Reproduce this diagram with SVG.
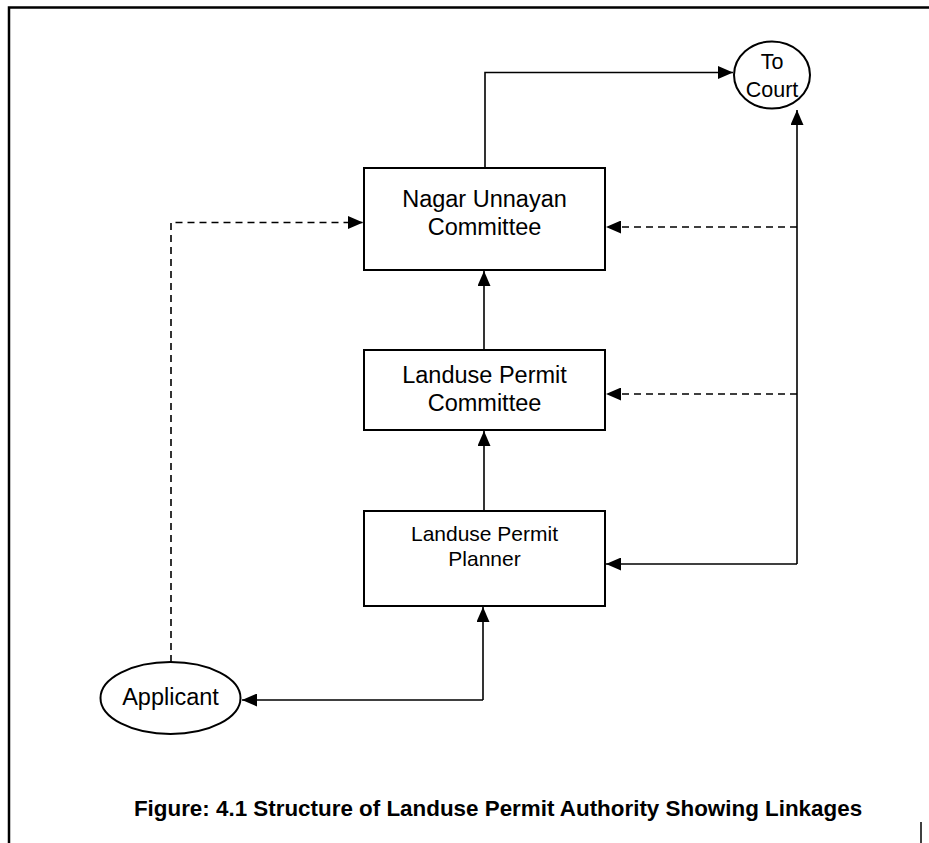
<svg xmlns="http://www.w3.org/2000/svg" width="929" height="843" viewBox="0 0 929 843">
<style>
.node{fill:#fff;stroke:#000;stroke-width:2}
.t{font-family:"Liberation Sans",Arial,sans-serif;font-size:23.5px;fill:#000;text-anchor:middle}
.ts{font-size:21px}
.tc{font-size:21.5px}
.cap{font-family:"Liberation Sans",Arial,sans-serif;font-size:22.4px;font-weight:bold;fill:#000;text-anchor:middle}
.c{fill:none;stroke:#000;stroke-width:1.6}
.d{stroke-dasharray:7 5}
.frame{fill:none;stroke:#000;stroke-width:2.5}
</style>
<defs>
<marker id="ah" viewBox="0 0 15 13" refX="15" refY="6.5" markerWidth="15" markerHeight="13" markerUnits="userSpaceOnUse" orient="auto">
<path d="M0,0 L15,6.5 L0,13 Z" fill="#000"/>
</marker>
</defs>
<g id="frame">
<path class="frame" d="M9,843 V7.5 H929"/>
<line x1="921" y1="822" x2="921" y2="843" stroke="#000" stroke-width="1.5"/>
</g>
<g id="connectors">
<path class="c" d="M485,168 V72.5 H733" marker-end="url(#ah)"/>
<path class="c" d="M797,564 V110" marker-end="url(#ah)"/>
<path class="c" d="M797,564 H606" marker-end="url(#ah)"/>
<path class="c d" d="M797,227 H606" marker-end="url(#ah)"/>
<path class="c d" d="M797,394 H606" marker-end="url(#ah)"/>
<path class="c" d="M484,350 V271" marker-end="url(#ah)"/>
<path class="c" d="M484,511 V431" marker-end="url(#ah)"/>
<path class="c" d="M483,700 V607" marker-end="url(#ah)"/>
<path class="c" d="M483,700 H242" marker-end="url(#ah)"/>
<path class="c d" d="M171,662 V222.5 H363" marker-end="url(#ah)"/>
</g>
<g id="to-court">
<ellipse class="node" cx="772" cy="75" rx="38" ry="33.5"/>
<text class="t tc" x="772" y="69">To</text>
<text class="t tc" x="772" y="97">Court</text>
</g>
<g id="nagar-unnayan-committee">
<rect class="node" x="364" y="168" width="241" height="102"/>
<text class="t" x="484.5" y="207">Nagar Unnayan</text>
<text class="t" x="484.5" y="235">Committee</text>
</g>
<g id="landuse-permit-committee">
<rect class="node" x="364" y="350" width="241" height="80"/>
<text class="t" x="484.5" y="383">Landuse Permit</text>
<text class="t" x="484.5" y="411">Committee</text>
</g>
<g id="landuse-permit-planner">
<rect class="node" x="364" y="511" width="241" height="95"/>
<text class="t ts" x="484.5" y="541">Landuse Permit</text>
<text class="t ts" x="484.5" y="566">Planner</text>
</g>
<g id="applicant">
<ellipse class="node" cx="170.5" cy="698" rx="70" ry="36"/>
<text class="t" x="170.5" y="705">Applicant</text>
</g>
<text class="cap" x="498" y="816">Figure: 4.1 Structure of Landuse Permit Authority Showing Linkages</text>
</svg>
